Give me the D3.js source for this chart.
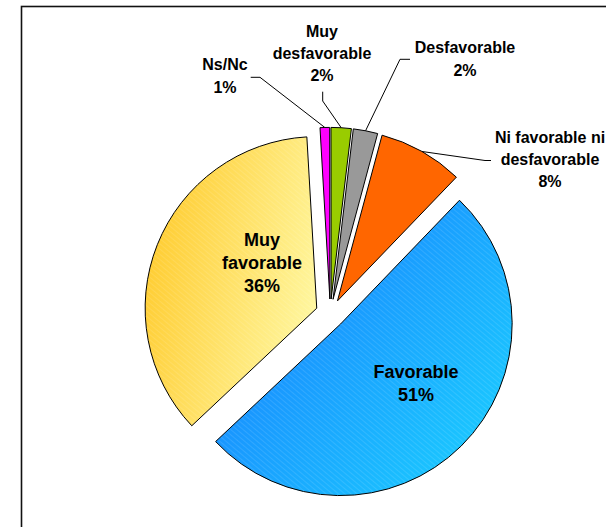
<!DOCTYPE html>
<html>
<head>
<meta charset="utf-8">
<script src="https://cdn.jsdelivr.net/npm/d3@7"></script>
<style>
  html, body { margin: 0; padding: 0; background: #fff; }
  svg { display: block; }
  text { font-family: "Liberation Sans", Arial, sans-serif; font-weight: bold; fill: #000; }
</style>
</head>
<body>
<svg id="chart" width="606" height="527"></svg>
<script>
// ---- data ----
const categories = ["Ns/Nc", "Muy desfavorable", "Desfavorable", "Ni favorable ni desfavorable", "Favorable", "Muy favorable"];
const values = [0.9, 1.9, 2.3, 8.0, 50.8, 36.1];
const percentLabels = ["1%", "2%", "2%", "8%", "51%", "36%"];
const labelLines = [["Ns/Nc"], ["Muy", "desfavorable"], ["Desfavorable"], ["Ni favorable ni", "desfavorable"], ["Favorable"], ["Muy", "favorable"]];

// ---- layout / style ----
const W = 606, H = 527;
const cx = 330.3, cy = 313.6, R = 171.6, explode = 14.6;
const startDeg = -3.3;
const colors = ["#FF00FF", "#99CC00", "#999999", "#FF6600", "url(#gBlue)", "url(#gYellow)"];
// label anchors: [centerX, firstBaseline, fontSize, lineHeight]
const labelPos = [
  [225, 70, 16, 22.6],
  [322, 36.7, 16, 22.2],
  [465, 52.7, 16, 23.3],
  [550, 143.3, 16, 22],
  [416, 377.7, 18, 23.3],
  [262, 246, 18, 22.8]
];
// leader lines: elbow and end points (null = none)
const leaders = [
  [[260, 77.3], [250.7, 77.3]],
  [[322.7, 101], [322.7, 91.7]],
  [[400, 59.3], [410, 59.3]],
  [[485, 160.5], [491, 160.5]],
  null, null
];

const svg = d3.select("#chart");
const defs = svg.append("defs");

const gy = defs.append("linearGradient").attr("id", "gYellow")
  .attr("x1", "0%").attr("y1", "20%").attr("x2", "100%").attr("y2", "60%");
gy.append("stop").attr("offset", "0%").attr("stop-color", "#FFC928");
gy.append("stop").attr("offset", "100%").attr("stop-color", "#FFF7A0");

const gb = defs.append("linearGradient").attr("id", "gBlue")
  .attr("x1", "0%").attr("y1", "10%").attr("x2", "100%").attr("y2", "90%");
gb.append("stop").attr("offset", "0%").attr("stop-color", "#1877FF");
gb.append("stop").attr("offset", "100%").attr("stop-color", "#1BD0FF");

const pat = defs.append("pattern").attr("id", "stripes")
  .attr("patternUnits", "userSpaceOnUse").attr("width", 4).attr("height", 4)
  .attr("patternTransform", "rotate(-50)");
pat.append("line").attr("x1", 0).attr("y1", 0).attr("x2", 0).attr("y2", 4)
  .attr("stroke", "#ffffff").attr("stroke-opacity", 0.22).attr("stroke-width", 1);

// frame
svg.append("rect").attr("x", 21.5).attr("y", 6.5).attr("width", 700).attr("height", 700)
  .attr("fill", "none").attr("stroke", "#111").attr("stroke-width", 1.6);

const pie = d3.pie().sort(null).value(d => d)
  .startAngle(startDeg * Math.PI / 180)
  .endAngle(startDeg * Math.PI / 180 + 2 * Math.PI);
const arcs = pie(values);
const arc = d3.arc().innerRadius(0).outerRadius(R);

const g = svg.append("g").attr("transform", `translate(${cx},${cy})`);

function offset(d) {
  const m = (d.startAngle + d.endAngle) / 2;
  return [explode * Math.sin(m), -explode * Math.cos(m)];
}

const slices = g.selectAll("g.slice").data(arcs).enter().append("g")
  .attr("class", "slice")
  .attr("transform", d => { const o = offset(d); return `translate(${o[0]},${o[1]})`; });

slices.append("path").attr("d", arc)
  .attr("fill", (d, i) => colors[i]);
slices.filter((d, i) => i >= 4).append("path").attr("d", arc)
  .attr("fill", "url(#stripes)");
slices.append("path").attr("d", arc)
  .attr("fill", "none").attr("stroke", "#000").attr("stroke-width", 1).attr("stroke-linejoin", "round");

// leader lines
arcs.forEach((d, i) => {
  const L = leaders[i];
  if (!L) return;
  const o = offset(d);
  const m = (d.startAngle + d.endAngle) / 2;
  const sx = cx + o[0] + R * Math.sin(m);
  const sy = cy + o[1] - R * Math.cos(m);
  svg.append("polyline")
    .attr("points", [[sx, sy], L[0], L[1]].map(p => p.join(",")).join(" "))
    .attr("fill", "none").attr("stroke", "#000").attr("stroke-width", 1);
});

// labels
arcs.forEach((d, i) => {
  const [x, y, fs, lh] = labelPos[i];
  const lines = labelLines[i].concat([percentLabels[i]]);
  const t = svg.append("text").attr("text-anchor", "middle").attr("font-size", fs);
  lines.forEach((s, k) => {
    t.append("tspan").attr("x", x).attr("y", y + k * lh).text(s);
  });
});
</script>
</body>
</html>
